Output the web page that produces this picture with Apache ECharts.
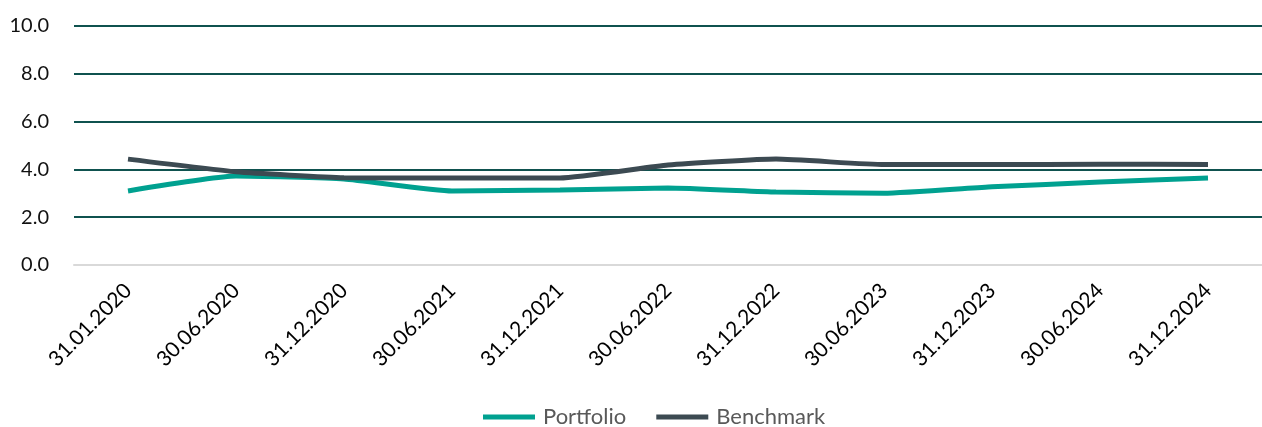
<!DOCTYPE html>
<html>
<head>
<meta charset="utf-8">
<script src="https://cdn.jsdelivr.net/npm/echarts@6/dist/echarts.min.js"></script>
<style>
  html, body { margin: 0; padding: 0; background: #fff; }
  #chart { width: 1262px; height: 427px; }
</style>
</head>
<body>
<div id="chart"></div>
<script>
// x-axis dates
var dates = ['31.01.2020', '30.06.2020', '31.12.2020', '30.06.2021', '31.12.2021', '30.06.2022',
  '31.12.2022', '30.06.2023', '31.12.2023', '30.06.2024', '31.12.2024']
// series values
var portfolio = [3.1, 3.72, 3.6, 3.1, 3.14, 3.22, 3.05, 3.0, 3.27, 3.47, 3.64]
var benchmark = [4.43, 3.9, 3.65, 3.64, 3.64, 4.18, 4.43, 4.2, 4.2, 4.22, 4.2]

var font = 'Lato'
var chart = echarts.init(document.getElementById('chart'), null, { renderer: 'canvas' })
chart.setOption({
  animation: false,
  grid: {
    left: 74,
    right: 0,
    top: 26,
    bottom: 162
  },
  legend: {
    data: ['Portfolio', 'Benchmark'],
    top: 401,
    left: 478,
    icon: 'rect',
    itemWidth: 52,
    itemHeight: 5,
    itemGap: 30,
    textStyle: {
      color: '#595959',
      fontFamily: font,
      fontSize: 22,
      padding: [0, 0, 0, 3]
    }
  },
  xAxis: {
    type: 'category',
    data: dates,
    boundaryGap: true,
    axisTick: { show: false },
    axisLine: {
      lineStyle: { color: '#d9d9d9', width: 2 }
    },
    axisLabel: {
      rotate: 45,
      interval: 0,
      margin: 22,
      color: '#000',
      fontFamily: font,
      fontSize: 21
    }
  },
  yAxis: {
    type: 'value',
    min: 0,
    max: 10,
    interval: 2,
    axisLine: { show: false },
    axisTick: { show: false },
    axisLabel: {
      margin: 25,
      color: '#111',
      fontFamily: font,
      fontSize: 20,
      formatter: function (v) { return v.toFixed(1) }
    },
    splitLine: {
      lineStyle: { color: '#0f524f', width: 2 }
    }
  },
  series: [
    {
      name: 'Portfolio',
      type: 'line',
      data: portfolio,
      smooth: 0.15,
      symbol: 'none',
      itemStyle: { color: '#00a190' },
      lineStyle: { color: '#00a190', width: 5 },
      z: 3
    },
    {
      name: 'Benchmark',
      type: 'line',
      data: benchmark,
      smooth: 0.15,
      symbol: 'none',
      itemStyle: { color: '#3c4a52' },
      lineStyle: { color: '#3c4a52', width: 5 },
      z: 4
    }
  ]
})
</script>
</body>
</html>
